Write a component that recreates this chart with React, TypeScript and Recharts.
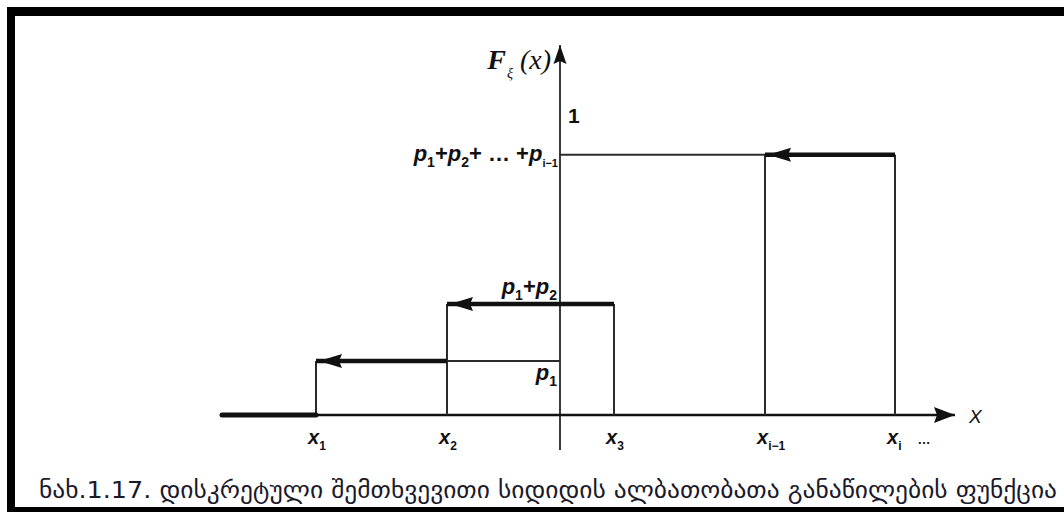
import { ComposedChart, Line, XAxis, YAxis } from "recharts";

// points on the x axis: x_1, x_2, x_3, x_{i-1}, x_i
const pointValues = [-2.44, -1.13, 0.54, 2.05, 3.35];
const pointSubs = ["1", "2", "3", "i−1", "i"];

// cumulative levels: p1, p1+p2, p1+p2+...+p_{i-1}, 1
const levelValues = [0.18, 0.37, 0.867, 1];

// height reached by the vertical drawn at each point
const riseLevels = [0.18, 0.37, 0.37, 0.867, 0.867];

const xRange = [-3.38, 3.95];
const yRange = [-0.117, 1.233];

const caption =
  "ნახ.1.17. დისკრეტული შემთხვევითი სიდიდის ალბათობათა განაწილების ფუნქცია";

const W = 1064;
const H = 512;
const INK = "#111";
const GUIDE = "#2b2b2b";
const MATH = "'Liberation Sans', Arial, sans-serif";
const SERIF = "'Liberation Serif', 'Times New Roman', serif";

type Pt = { x: number; y: number };
const seg = (x0: number, y0: number, x1: number, y1: number): Pt[] => [
  { x: x0, y: y0 },
  { x: x1, y: y1 },
];

// thick parts of the step function (open end on the left, arrow)
const stepSegments = [
  seg(pointValues[0], levelValues[0], pointValues[1], levelValues[0]),
  seg(pointValues[1], levelValues[1], pointValues[2], levelValues[1]),
  seg(pointValues[3], levelValues[2], pointValues[4], levelValues[2]),
];

// thin construction lines
const guideSegments = [
  ...pointValues.map((v, i) => seg(v, 0, v, riseLevels[i])),
  seg(pointValues[1], levelValues[0], 0, levelValues[0]),
  seg(0, levelValues[2], pointValues[3], levelValues[2]),
];

const leftArrow = (p: any) => {
  if (p.index !== 0) return <g key={`la-${p.index}`} />;
  const { cx, cy } = p;
  return (
    <polygon
      key={`la-${p.index}`}
      points={`${cx + 3},${cy} ${cx + 26},${cy - 7} ${cx + 23},${cy} ${cx + 26},${cy + 7}`}
      fill={INK}
    />
  );
};

const xArrow = (p: any) => {
  if (p.index !== 1) return <g key={`xa-${p.index}`} />;
  const { cx, cy } = p;
  return (
    <g key={`xa-${p.index}`}>
      <polygon
        points={`${cx},${cy} ${cx - 21},${cy - 8} ${cx - 18},${cy} ${cx - 21},${cy + 8}`}
        fill={INK}
      />
      <text
        x={cx + 14}
        y={cy + 8}
        fontFamily={MATH}
        fontStyle="italic"
        fontSize={19}
        fill={INK}
      >
        X
      </text>
    </g>
  );
};

const yArrow = (p: any) => {
  if (p.index !== 1) return <g key={`ya-${p.index}`} />;
  const { cx, cy } = p;
  return (
    <g key={`ya-${p.index}`}>
      <polygon
        points={`${cx},${cy} ${cx - 6.5},${cy + 19} ${cx},${cy + 16} ${cx + 6.5},${cy + 19}`}
        fill={INK}
      />
      <text x={cx - 9} y={cy + 24} textAnchor="end" fontFamily={SERIF} fill={INK}>
        <tspan fontSize={28} fontStyle="italic" fontWeight="bold">F</tspan>
        <tspan fontSize={14} fontStyle="italic" dy={9} dx={1}>ξ</tspan>
        <tspan fontSize={28} fontStyle="italic" dy={-9} dx={7}>(x)</tspan>
      </text>
    </g>
  );
};

const sub = (s: string, dy: number, size = 14) => (
  <tspan fontSize={size} fontStyle="normal" dy={dy}>
    {s}
  </tspan>
);

const levelLabel = (p: any) => {
  const { cx, cy, index } = p;
  const k = `ll-${index}`;
  const common = {
    fontFamily: MATH,
    fill: INK,
    fontWeight: "bold" as const,
    fontSize: 22,
  };
  if (index === 0)
    return (
      <text key={k} x={cx - 3} y={cy + 19} textAnchor="end" {...common}>
        <tspan fontStyle="italic">p</tspan>
        {sub("1", 6)}
      </text>
    );
  if (index === 1)
    return (
      <text key={k} x={cx - 3} y={cy - 10} textAnchor="end" {...common}>
        <tspan fontStyle="italic">p</tspan>
        {sub("1", 6)}
        <tspan dy={-6}>+</tspan>
        <tspan fontStyle="italic">p</tspan>
        {sub("2", 6)}
      </text>
    );
  if (index === 2)
    return (
      <text key={k} x={cx - 2} y={cy + 6} textAnchor="end" {...common}>
        <tspan fontStyle="italic">p</tspan>
        {sub("1", 6)}
        <tspan dy={-6}>+</tspan>
        <tspan fontStyle="italic">p</tspan>
        {sub("2", 6)}
        <tspan dy={-6}>+ … +</tspan>
        <tspan fontStyle="italic">p</tspan>
        {sub("i−1", 6, 11)}
      </text>
    );
  return (
    <text key={k} x={cx + 8} y={cy + 8} {...common} fontSize={21}>
      1
    </text>
  );
};

// names of the points, hung below the x axis
const pointLabel = (p: any) => {
  const { cx, cy, index } = p;
  const last = index === pointValues.length - 1;
  return (
    <text
      key={`pl-${index}`}
      x={cx - 8}
      y={cy + 29}
      fontFamily={MATH}
      fontWeight="bold"
      fontStyle="italic"
      fontSize={20}
      fill={INK}
    >
      x{sub(pointSubs[index], 6, 12)}
      {last ? (
        <tspan dx={16} dy={-6} fontSize={13} fontStyle="normal">
          …
        </tspan>
      ) : null}
    </text>
  );
};

const lineProps = {
  dataKey: "y",
  type: "linear" as const,
  activeDot: false,
  isAnimationActive: false,
  legendType: "none" as const,
};

export default function App() {
  return (
    <div
      style={{
        position: "absolute",
        left: 0,
        top: 0,
        width: W,
        height: H,
        background: "#fff",
        overflow: "hidden",
      }}
    >
      <div
        style={{
          position: "absolute",
          left: 7,
          top: 7,
          width: W - 7,
          height: H - 7,
          boxSizing: "border-box",
          borderTop: "9px solid #000",
          borderLeft: "8px solid #000",
          borderBottom: "5px solid #000",
        }}
      />
      <div style={{ position: "absolute", left: 0, top: 0 }}>
        <ComposedChart
          width={W}
          height={H}
          margin={{ top: 45, right: 109, bottom: 62, left: 222 }}
        >
          <XAxis type="number" dataKey="x" domain={xRange} hide />
          <YAxis type="number" domain={yRange} hide />

          {/* axes */}
          <Line
            {...lineProps}
            data={seg(0, yRange[0], 0, yRange[1])}
            stroke="#3a3a3a"
            strokeWidth={2}
            dot={yArrow}
          />
          <Line
            {...lineProps}
            data={seg(xRange[0], 0, xRange[1], 0)}
            stroke={INK}
            strokeWidth={2.5}
            dot={xArrow}
          />

          {/* construction lines */}
          {guideSegments.map((d, i) => (
            <Line
              key={`g-${i}`}
              {...lineProps}
              data={d}
              stroke={GUIDE}
              strokeWidth={2}
              dot={false}
            />
          ))}

          {/* F = 0 left of x_1 */}
          <Line
            {...lineProps}
            data={seg(xRange[0], 0, pointValues[0], 0)}
            stroke={INK}
            strokeWidth={5}
            strokeLinecap="round"
            dot={false}
          />

          {/* steps */}
          {stepSegments.map((d, i) => (
            <Line
              key={`s-${i}`}
              {...lineProps}
              data={d}
              stroke={INK}
              strokeWidth={4.5}
              dot={leftArrow}
            />
          ))}

          {/* level names on the F axis */}
          <Line
            {...lineProps}
            data={levelValues.map((v) => ({ x: 0, y: v }))}
            stroke="none"
            dot={levelLabel}
          />

          {/* point names on the x axis */}
          <Line
            {...lineProps}
            data={pointValues.map((v) => ({ x: v, y: 0 }))}
            stroke="none"
            dot={pointLabel}
          />
        </ComposedChart>
      </div>
      <svg
        width={W}
        height={H}
        style={{ position: "absolute", left: 0, top: 0, pointerEvents: "none" }}
      >
        <text
          x={39}
          y={498}
          fontFamily="'DejaVu Sans', sans-serif"
          fontSize={23}
          fill="#1a1a2a"
          textLength={1018}
          lengthAdjust="spacingAndGlyphs"
        >
          {caption}
        </text>
      </svg>
    </div>
  );
}
